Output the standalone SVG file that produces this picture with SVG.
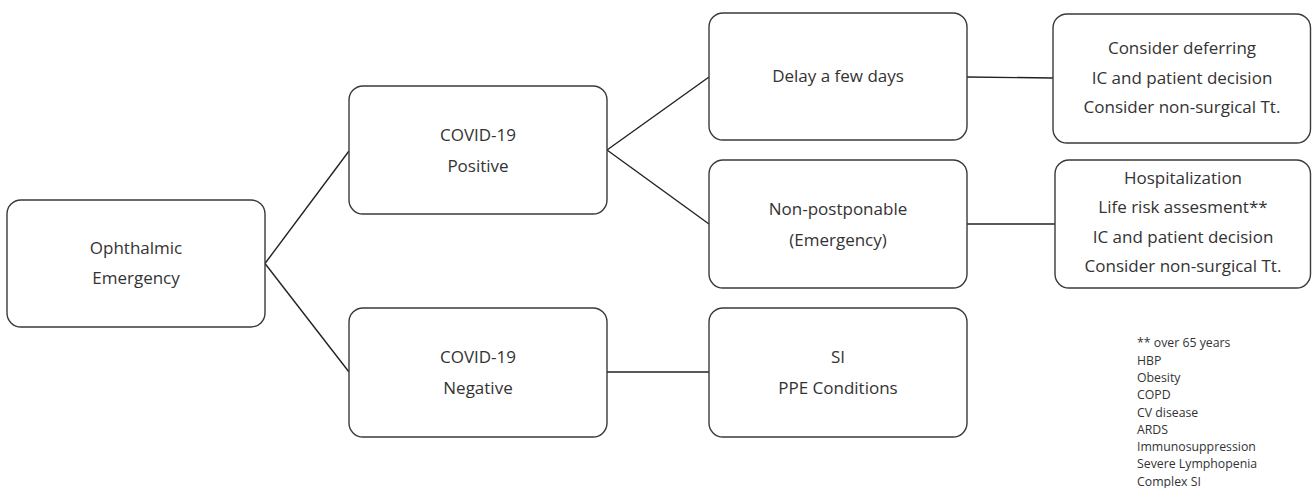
<svg xmlns="http://www.w3.org/2000/svg" width="1312" height="488" viewBox="0 0 1312 488">
<style>
.box{fill:#fff;stroke:#3a3a3a;stroke-width:1.4}
.t{font-family:"Open Sans","Liberation Sans",sans-serif;font-size:17px;fill:#333;text-anchor:middle}
.n{font-family:"Open Sans","Liberation Sans",sans-serif;font-size:12.3px;fill:#333}
.c{stroke:#222;stroke-width:1.4;fill:none}
</style>
<rect width="1312" height="488" fill="#fff"/>
<g id="connectors">
<line class="c" x1="265" y1="263.5" x2="349" y2="151"/>
<line class="c" x1="265" y1="263.5" x2="349" y2="372"/>
<line class="c" x1="607" y1="150" x2="709" y2="77"/>
<line class="c" x1="607" y1="150" x2="709" y2="224"/>
<line class="c" x1="967" y1="77" x2="1053" y2="78"/>
<line class="c" x1="967" y1="224" x2="1055" y2="224"/>
<line class="c" x1="607" y1="372" x2="709" y2="372"/>
</g>
<g id="ophthalmic">
<rect class="box" x="7" y="200" width="258" height="127" rx="14"/>
<text class="t" x="136" y="254">Ophthalmic</text>
<text class="t" x="136" y="284">Emergency</text>
</g>
<g id="positive">
<rect class="box" x="349" y="86" width="258" height="128" rx="14"/>
<text class="t" x="478" y="141">COVID-19</text>
<text class="t" x="478" y="171.5">Positive</text>
</g>
<g id="negative">
<rect class="box" x="349" y="308" width="258" height="129" rx="14"/>
<text class="t" x="478" y="363">COVID-19</text>
<text class="t" x="478" y="393.5">Negative</text>
</g>
<g id="delay">
<rect class="box" x="709" y="13" width="258" height="127" rx="14"/>
<text class="t" x="838" y="82">Delay a few days</text>
</g>
<g id="nonpostponable">
<rect class="box" x="709" y="160" width="258" height="128" rx="14"/>
<text class="t" x="838" y="215">Non-postponable</text>
<text class="t" x="838" y="245.5">(Emergency)</text>
</g>
<g id="si">
<rect class="box" x="709" y="308" width="258" height="129" rx="14"/>
<text class="t" x="838" y="363">SI</text>
<text class="t" x="838" y="393.5">PPE Conditions</text>
</g>
<g id="deferring">
<rect class="box" x="1053" y="14" width="257.5" height="129" rx="14"/>
<text class="t" x="1182" y="54">Consider deferring</text>
<text class="t" x="1182" y="83.7">IC and patient decision</text>
<text class="t" x="1182" y="113.4">Consider non-surgical Tt.</text>
</g>
<g id="hospitalization">
<rect class="box" x="1055" y="160" width="255.5" height="128" rx="14"/>
<text class="t" x="1183" y="184">Hospitalization</text>
<text class="t" x="1183" y="213.3">Life risk assesment**</text>
<text class="t" x="1183" y="242.6">IC and patient decision</text>
<text class="t" x="1183" y="271.9">Consider non-surgical Tt.</text>
</g>
<g id="footnote">
<text class="n" x="1137" y="347.3">** over 65 years</text>
<text class="n" x="1137" y="364.6">HBP</text>
<text class="n" x="1137" y="381.9">Obesity</text>
<text class="n" x="1137" y="399.2">COPD</text>
<text class="n" x="1137" y="416.5">CV disease</text>
<text class="n" x="1137" y="433.8">ARDS</text>
<text class="n" x="1137" y="451.1">Immunosuppression</text>
<text class="n" x="1137" y="468.4">Severe Lymphopenia</text>
<text class="n" x="1137" y="485.7">Complex SI</text>
</g>
</svg>
